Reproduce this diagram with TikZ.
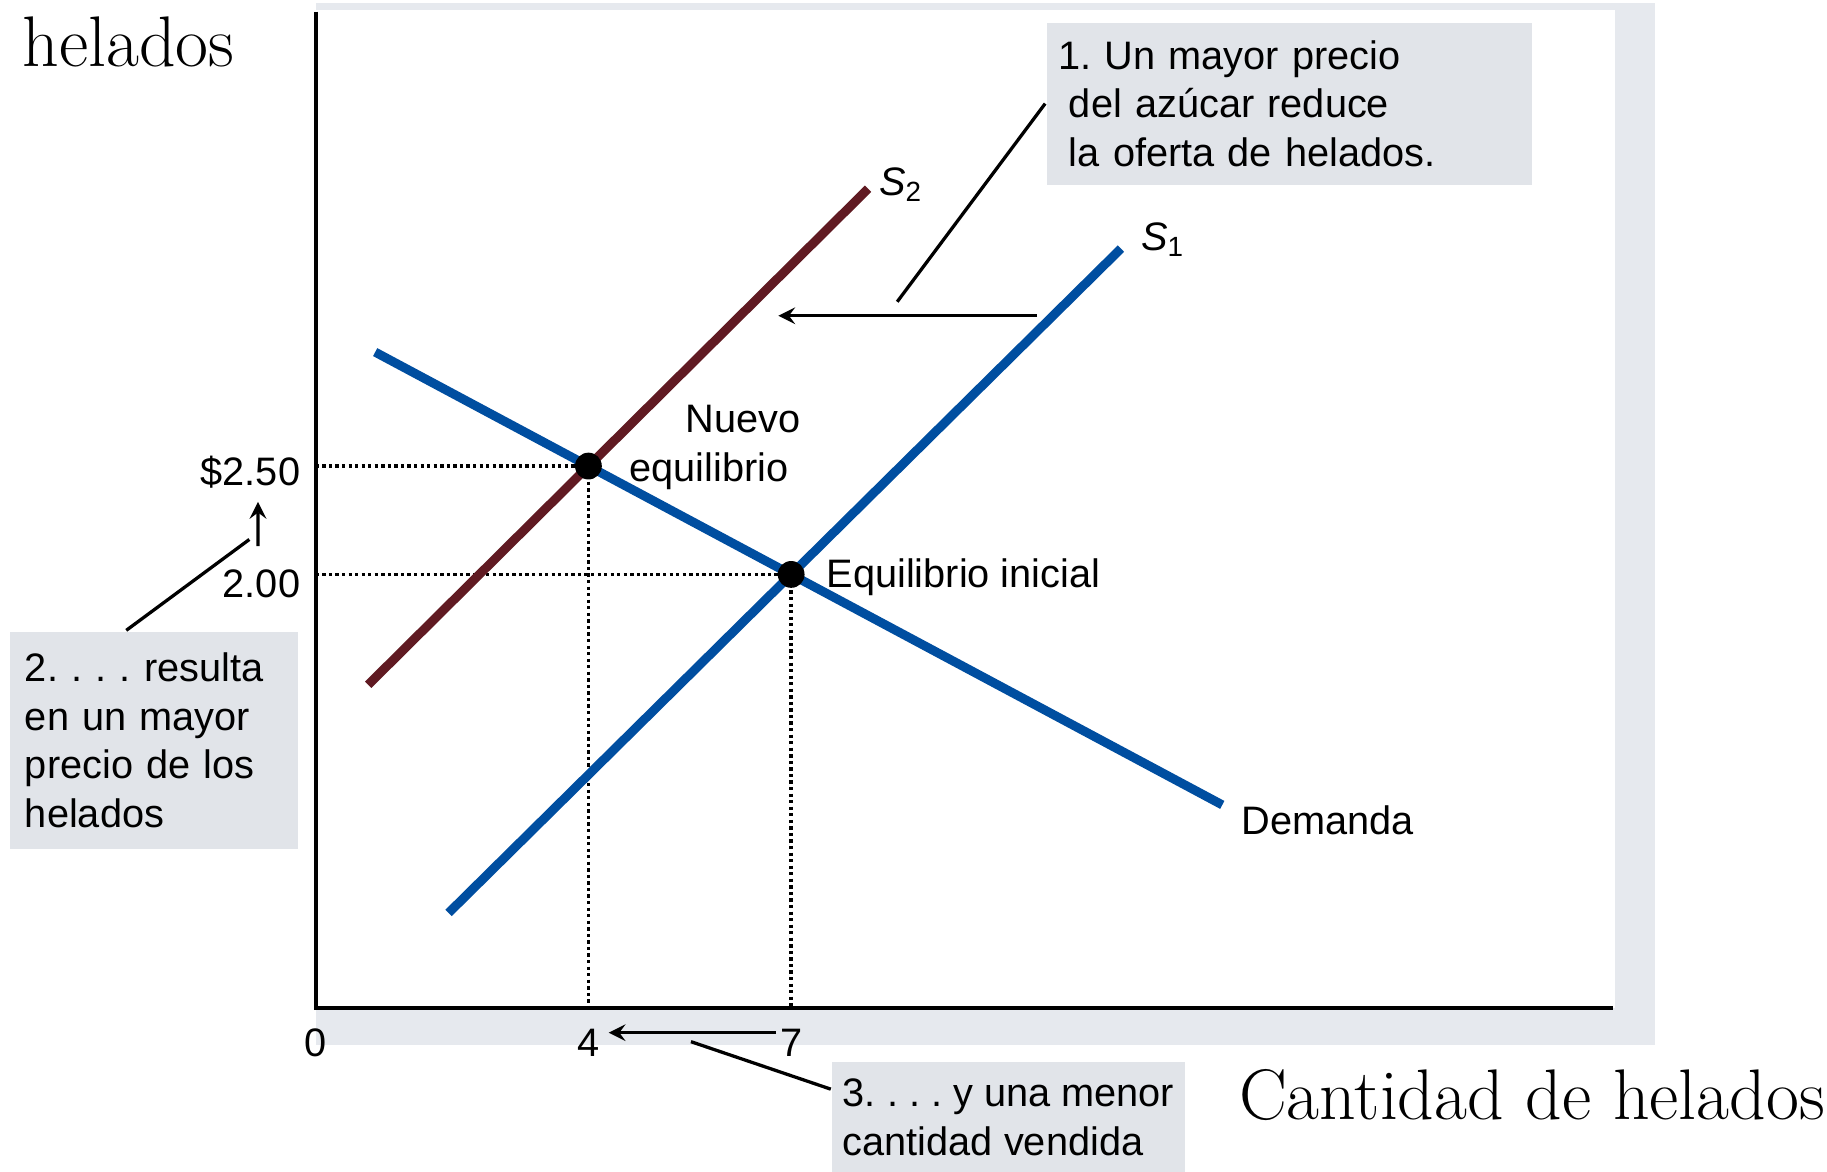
\documentclass[tikz,border=0pt]{standalone}
\usepackage{fontspec}
\setsansfont{Liberation Sans}
\usepackage{tikz}
\usetikzlibrary{calc}
\frenchspacing
\definecolor{azul}{RGB}{0,78,160}
\definecolor{granate}{RGB}{96,26,34}
\definecolor{gris}{RGB}{225,228,233}
\definecolor{sombra}{RGB}{230,233,238}
\tikzset{
  txt/.style={font=\sffamily\fontsize{9.7}{11.9}\selectfont,inner sep=0pt},
  eje/.style={font=\rmfamily\fontsize{17.5}{20}\selectfont,inner sep=0pt,anchor=base west},
  caja/.style={txt,fill=gris,anchor=north west,align=left,inner xsep=0.1cm}
}

\begin{document}
\begin{tikzpicture}[line width=0.8pt,>=stealth,
  curva/.style={line width=2.2pt},
  punteada/.style={line width=0.9pt,dash pattern=on 0.8pt off 0.8pt},
  punto/.style={circle,fill=black,inner sep=0pt,minimum size=0.23cm}]
\useasboundingbox (-2.71,-1.40) rectangle (12.97,8.65);
% panel with shadow
\fill[sombra] (0,-0.32) rectangle (11.49,8.62);
\fill[white] (0,0) rectangle (11.15,8.56);
\coordinate (o) at (0,0);
\coordinate (ini) at (4.08,3.72);
\coordinate (nue) at (2.34,4.65);
\draw[line width=1pt] (0,8.55) -- (o) -- (11.13,0);
% dotted guides
\draw[punteada] (o |- nue) -- (nue) -- (nue |- o);
\draw[punteada] (o |- ini) -- (ini) -- (ini |- o);
% curves
\draw[curva,azul] (1.14,0.815) -- (6.91,6.516);
\draw[curva,granate] (0.45,2.773) -- (4.74,7.03);
\draw[curva,azul] (0.51,5.628) -- (7.78,1.742);
\node[punto] (pini) at (ini) {};
\node[punto] (pnue) at (nue) {};
\node[txt,anchor=base west] (ls1) at (7.07,6.50) {\textit{S}\textsubscript{1}};
\node[txt,anchor=base west] (ls2) at (4.82,6.97) {\textit{S}\textsubscript{2}};
\node[txt,anchor=base west] (ld) at (7.93,1.49) {Demanda};
\node[txt,anchor=base west] (lini) at (4.37,3.61) {Equilibrio inicial};
\node[txt,anchor=base west] (lnue1) at (3.16,4.94) {Nuevo};
\node[txt,anchor=base west] (lnue2) at (2.68,4.52) {equilibrio};
% axis numbers
\node[txt,anchor=base east] (p250) at (-0.12,4.48) {\$2.50};
\node[txt,anchor=base east] (p200) at (-0.12,3.52) {2.00};
\node[txt,anchor=base] (q0) at (0,-0.42) {0};
\node[txt,anchor=base] (q4) at (2.34,-0.42) {4};
\node[txt,anchor=base] (q7) at (4.08,-0.42) {7};
\node[eje] (ly) at (-2.53,8.08) {helados};
\node[eje] (lx) at (7.91,-0.96) {Cantidad de helados};
% notes
\node[caja,text width=3.96cm,minimum width=4.16cm,minimum height=1.39cm] (box1) at (6.26,8.47)
  {1. Un mayor precio\\\hspace*{0.09cm}del azúcar reduce\\\hspace*{0.09cm}la oferta de helados.};
\node[caja,inner xsep=0.13cm,text width=2.21cm,minimum height=1.86cm] (box2) at (-2.64,3.24)
  {2. . . . resulta\\en un mayor\\precio de los\\helados};
\node[caja,inner xsep=0.09cm,minimum height=0.95cm] (box3) at (4.42,-0.45)
  {3. . . . y una menor\\cantidad vendida};
\coordinate (c1) at (4.99,6.06);
\coordinate (c2) at (-0.57,4.02);
\coordinate (c3) at (3.22,-0.29);
\coordinate (a1) at (6.19,5.94);
\coordinate (a2) at (3.97,5.94);
\draw (box1.west) -- (c1);
\draw[->] (a1) -- (a2);
\draw (box2.104) -- (c2);
\draw[->] ($(p200.north)+(-0.03,0.19)$) -- ($(p250.south)+(0.065,-0.1)$);
\draw (box3.171) -- (c3);
\draw[->] ($(q7.west)+(-0.02,0.09)$) -- ($(q4.east)+(0.065,0.09)$);
\end{tikzpicture}
\end{document}
